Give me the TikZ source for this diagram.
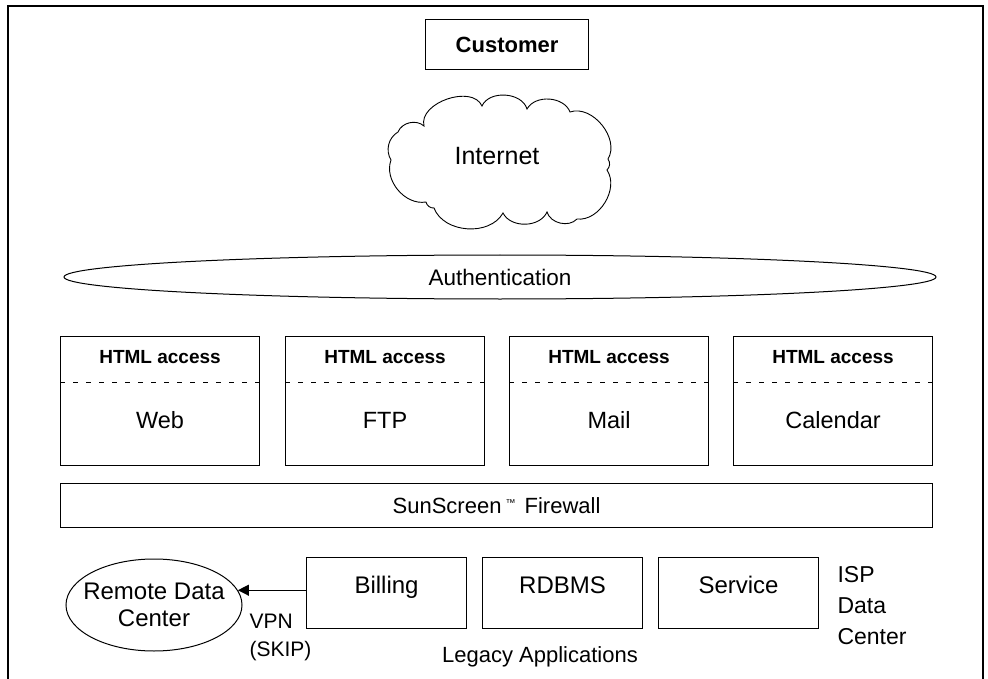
\documentclass[tikz,border=0pt]{standalone}
\usepackage{fontspec}
\setmainfont{Liberation Sans}
\usetikzlibrary{shapes.geometric,arrows.meta,calc}
\begin{document}
\begin{tikzpicture}[x=1pt,y=-1pt,
  every node/.style={font=\fontsize{22}{27}\selectfont},
  box/.style={draw,line width=1.1pt,inner sep=0pt,anchor=north west},
  svcbox/.style={box,minimum width=199pt,minimum height=129pt},
  appbox/.style={box,minimum width=160pt,minimum height=71pt},
  boldlbl/.style={font=\fontsize{19}{21}\selectfont\bfseries},
  lbl/.style={font=\fontsize{22}{26}\selectfont},
  biglbl/.style={font=\fontsize{24}{27}\selectfont},
  applbl/.style={biglbl,anchor=base},
  puff/.style={bend left=#1},
  sep/.style={line width=0.9pt,dash pattern=on 5pt off 8pt}]
\useasboundingbox (0,0) rectangle (988,679);
% frame
\draw[line width=1.8pt] (8,679) -- (8,6) -- (983,6) -- (983,679);
% customer
\node[box,minimum width=163pt,minimum height=50pt] (cust) at (425,19) {};
\node[font=\fontsize{22}{24}\selectfont\bfseries] (custl) at (cust.center) {Customer};
% internet cloud
\draw[line width=0.9pt] (398,132) to[puff=55] (424,126) to[puff=85] (482,106)
  to[puff=70] (527,109) to[puff=65] (570,112) to[puff=70] (608,159)
  to[puff=40] (607,170) to[puff=65] (577,219) to[puff=60] (547,212)
  to[puff=65] (503,213) to[puff=65] (434,208) to[puff=40] (426,202)
  to[puff=60] (391,160) to[puff=45] cycle;
\node[font=\fontsize{25}{30}\selectfont] (net) at (497,156) {Internet};
% authentication
\node[ellipse,draw,line width=1pt,minimum width=872pt,minimum height=44pt,inner sep=0pt,font=\fontsize{22.5}{26}\selectfont] (auth) at (500,277) {Authentication};
% service boxes
\foreach \n/\x/\t in {web/60/Web,ftp/285/FTP,mail/509/Mail,cal/733/Calendar}{
  \node[svcbox] (\n) at (\x,336) {};
  \node[boldlbl] (\n h) at ($(\n.north)+(0,21)$) {HTML access};
  \draw[sep] ($(\n.north west)+(0,46)$) -- ($(\n.north east)+(0,46)$);
  \node[font=\fontsize{23.5}{26}\selectfont] (\n t) at ($(\n.north)+(0,84)$) {\t};
}
% firewall
\node[box,minimum width=872pt,minimum height=44pt] (fw) at (60,483) {};
\node[lbl] (fwl) at (fw.center) {SunScreen\hspace{4pt}{\fontsize{10}{10}\selectfont\raisebox{7pt}{™}}\hspace{3pt} Firewall};
% legacy apps
\node[appbox] (bill) at (306,557) {};
\node[applbl] (billl) at (bill.center |- 0,593) {Billing};
\node[appbox] (rdb) at (482,557) {};
\node[applbl] (rdbl) at (rdb.center |- 0,593) {RDBMS};
\node[appbox] (svc) at (658,557) {};
\node[applbl] (svcl) at (svc.center |- 0,593) {Service};
\node[ellipse,draw,line width=1pt,minimum width=176pt,minimum height=92pt,inner sep=0pt] (rem) at (154,605) {};
\node[align=center,biglbl] (reml) at (rem.center) {Remote Data\\Center};
\draw[line width=1.1pt,-{Triangle[length=11pt,width=11pt]}] (bill.west |- rem.10) -- (rem.10);
\node[align=left,anchor=north west,font=\fontsize{21}{28}\selectfont] (vpn) at (246,611) {VPN\\(SKIP)};
\node[lbl,anchor=center] (legacy) at (540,657) {Legacy Applications};
\node[align=left,anchor=north west,font=\fontsize{23}{31}\selectfont] (isp) at (834,563) {ISP\\Data\\Center};
\end{tikzpicture}
\end{document}
